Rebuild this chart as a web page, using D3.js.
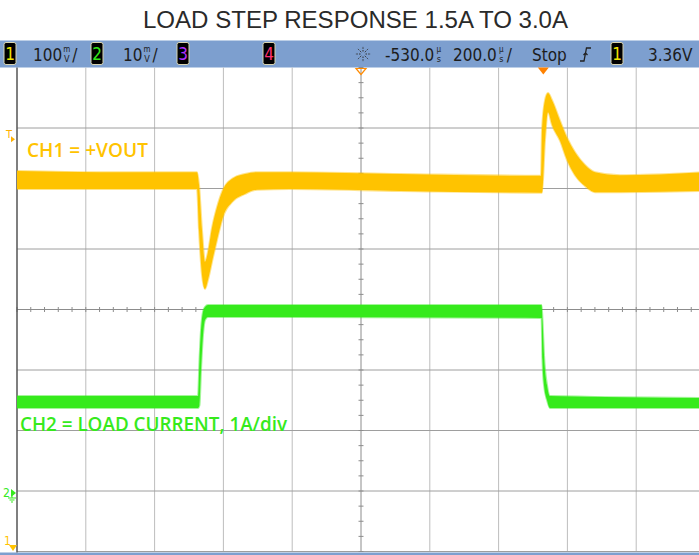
<!DOCTYPE html>
<html>
<head>
<meta charset="utf-8">
<script src="https://cdn.jsdelivr.net/npm/d3@7"></script>
<style>
  body { margin: 0; background: #fff; }
  svg { display: block; }
</style>
</head>
<body>
<div id="chart"></div>
<script>
// ---- data read off the scope shot ----
// time in µs relative to the trigger point
var ch1Time  = [-1530, -1288.7, -1006.7, -1000.9, -992.2, -983.5, -974.8, -963.1, -948.6, -931.2, -902.1, -867.2, -832.3, -736.4, -416.6, -6.7, -3.8, 4.9, 13.6, 25.3, 48.5, 68.9, 92.1, 121.2, 150.3, 222.9, 470];
// CH1 (+VOUT) noise envelope, volts
var ch1Upper = [3.301, 3.299, 3.299, 3.278, 3.203, 3.151, 3.167, 3.207, 3.241, 3.270, 3.289, 3.296, 3.299, 3.299, 3.296, 3.293, 3.369, 3.418, 3.430, 3.418, 3.384, 3.356, 3.332, 3.311, 3.299, 3.294, 3.299];
var ch1Lower = [3.271, 3.271, 3.271, 3.203, 3.129, 3.106, 3.121, 3.151, 3.187, 3.225, 3.251, 3.263, 3.270, 3.271, 3.268, 3.265, 3.265, 3.352, 3.398, 3.377, 3.351, 3.319, 3.294, 3.276, 3.266, 3.266, 3.268];

var ch2Time  = [-1530, -1003.8, -999.5, -995.1, -989.3, -983.5, -974.8, -5.2, -2.4, 2.0, 10.7, 19.4, 470];
// CH2 (load current) noise envelope, amps
var ch2Upper = [1.603, 1.603, 2.198, 2.694, 2.992, 3.074, 3.107, 3.107, 2.860, 2.281, 1.785, 1.603, 1.570];
var ch2Lower = [1.405, 1.405, 1.455, 2.033, 2.612, 2.860, 2.909, 2.893, 2.198, 1.785, 1.537, 1.405, 1.405];

var timeDomain = [-1530, 470];   // 200 µs/div, delay -530 µs
var ch1Domain = [2.672, 3.472];  // 100 mV/div
var ch2Domain = [-0.967, 7.033]; // 1 A/div
var trigLevel = 3.36;

var statusItems = [
    { kind: "box", ch: "1", color: "#f2e600", x: 4 },
    { kind: "unit", main: "100", top: "m", bot: "V", tail: "/", x: 33 },
    { kind: "box", ch: "2", color: "#33e61a", x: 91 },
    { kind: "unit", main: "10", top: "m", bot: "V", tail: "/", x: 123 },
    { kind: "box", ch: "3", color: "#b030ff", x: 177 },
    { kind: "box", ch: "4", color: "#ff3070", x: 263 },
    { kind: "unit", main: "-530.0", top: "µ", bot: "s", tail: "", x: 385 },
    { kind: "unit", main: "200.0", top: "µ", bot: "s", tail: "/", x: 453 },
    { kind: "unit", main: "Stop", top: "", bot: "", tail: "", x: 532 },
    { kind: "box", ch: "1", color: "#f2e600", x: 611 },
    { kind: "unit", main: "3.36V", top: "", bot: "", tail: "", x: 648 }
];

// ---- layout ----
var config = {
    width: 699,
    height: 555,
    left: 17,
    top: 67.5,
    divW: 68.8,
    divH: 60.5,
    xDivs: 10,
    yDivs: 8,
    yellow: "#ffc300",
    green: "#36ea1c",
    barColor: "#7d9fcf",
    barFont: "'Liberation Sans Narrow', 'DejaVu Sans Condensed', sans-serif",
    labelFont: "'Open Sans', Lato, sans-serif"
};
var plotW = config.divW * config.xDivs;
var plotH = config.divH * config.yDivs;
var right = config.left + plotW;
var bottom = config.top + plotH;
var cx = config.left + plotW / 2;
var cy = config.top + plotH / 2;

var x = d3.scaleLinear().domain(timeDomain).range([config.left, right]);
var y1 = d3.scaleLinear().domain(ch1Domain).range([bottom, config.top]);
var y2 = d3.scaleLinear().domain(ch2Domain).range([bottom, config.top]);

var svg = d3.select("#chart").append("svg")
    .attr("width", config.width)
    .attr("height", config.height);

svg.append("text")
    .attr("x", 355.5).attr("y", 28)
    .attr("text-anchor", "middle")
    .attr("font-family", "'Liberation Sans', Arial, sans-serif")
    .attr("font-size", 23)
    .attr("fill", "#2a2a2a")
    .attr("textLength", 425).attr("lengthAdjust", "spacingAndGlyphs")
    .text("LOAD STEP RESPONSE 1.5A TO 3.0A");

// status bar
var bar = svg.append("g").attr("class", "status");
bar.append("rect")
    .attr("x", 0).attr("y", 40.5).attr("width", config.width).attr("height", 27)
    .attr("fill", config.barColor);

statusItems.forEach(function (d) {
    if (d.kind === "box") {
        bar.append("rect")
            .attr("x", d.x).attr("y", 42.5).attr("width", 12).attr("height", 22)
            .attr("rx", 2)
            .attr("fill", "#000").attr("stroke", "#d8d4b0").attr("stroke-width", 1);
        bar.append("text")
            .attr("x", d.x + 6).attr("y", 60)
            .attr("text-anchor", "middle")
            .attr("font-family", config.barFont)
            .attr("font-size", 17)
            .attr("fill", d.color)
            .text(d.ch);
        return;
    }
    var t = bar.append("text")
        .attr("x", d.x).attr("y", 61)
        .attr("font-family", config.barFont)
        .attr("font-size", 17)
        .attr("fill", "#1c1c1c")
        .text(d.main);
    var xPos = d.x + t.node().getComputedTextLength();
    if (d.top) {
        // stacked unit glyph, like the scope's small "m over V"
        bar.append("text").attr("x", xPos + 4.5).attr("y", 52)
            .attr("text-anchor", "middle")
            .attr("font-family", config.barFont).attr("font-size", 8)
            .attr("fill", "#1c1c1c").text(d.top);
        bar.append("text").attr("x", xPos + 4.5).attr("y", 61.5)
            .attr("text-anchor", "middle")
            .attr("font-family", config.barFont).attr("font-size", 9)
            .attr("fill", "#1c1c1c").text(d.bot);
        xPos += 9;
    }
    if (d.tail) {
        bar.append("text").attr("x", xPos + 1).attr("y", 61)
            .attr("font-family", config.barFont).attr("font-size", 17)
            .attr("fill", "#1c1c1c").text(d.tail);
    }
});

// acquisition "sun" icon
var sun = bar.append("g").attr("transform", "translate(363,54)");
d3.range(8).forEach(function (i) {
    var a = i * Math.PI / 4;
    sun.append("line")
        .attr("x1", Math.cos(a) * 2.5).attr("y1", Math.sin(a) * 2.5)
        .attr("x2", Math.cos(a) * 8).attr("y2", Math.sin(a) * 8)
        .attr("stroke", "#333").attr("stroke-width", 1)
        .attr("stroke-dasharray", "1.5,1.2");
});
// rising-edge trigger icon
bar.append("path")
    .attr("d", "M580,61 L584,61 L586.5,48 L591,48 M583.5,55 L585.5,53 L587.5,55")
    .attr("fill", "none").attr("stroke", "#222").attr("stroke-width", 1.3);

bar.append("rect")
    .attr("x", 0).attr("y", 552.5).attr("width", config.width).attr("height", 3)
    .attr("fill", config.barColor);

// graticule
var grid = svg.append("g").attr("class", "grid");
grid.selectAll("line.v")
    .data(d3.range(1, config.xDivs))
    .enter().append("line")
    .attr("x1", function (i) { return config.left + i * config.divW; })
    .attr("x2", function (i) { return config.left + i * config.divW; })
    .attr("y1", config.top).attr("y2", bottom)
    .attr("stroke", function (i) { return i === 5 ? "#8c8c8c" : "#bdbdbd"; })
    .attr("stroke-width", 1);
grid.selectAll("line.h")
    .data(d3.range(1, config.yDivs + 1))
    .enter().append("line")
    .attr("x1", config.left).attr("x2", config.width)
    .attr("y1", function (i) { return config.top + i * config.divH; })
    .attr("y2", function (i) { return config.top + i * config.divH; })
    .attr("stroke", function (i) { return i === 4 ? "#8c8c8c" : "#9e9e9e"; })
    .attr("stroke-width", 1);

// minor ticks on centre lines
grid.selectAll("line.mx")
    .data(d3.range(0, config.xDivs * 5 + 1))
    .enter().append("line")
    .attr("x1", function (i) { return config.left + i * config.divW / 5; })
    .attr("x2", function (i) { return config.left + i * config.divW / 5; })
    .attr("y1", cy - 2.5).attr("y2", cy + 2.5)
    .attr("stroke", "#8c8c8c");
grid.selectAll("line.my")
    .data(d3.range(0, config.yDivs * 4 + 1))
    .enter().append("line")
    .attr("x1", cx - 2.5).attr("x2", cx + 2.5)
    .attr("y1", function (i) { return config.top + i * config.divH / 4; })
    .attr("y2", function (i) { return config.top + i * config.divH / 4; })
    .attr("stroke", "#8c8c8c");

svg.append("line")
    .attr("x1", config.left).attr("x2", config.left)
    .attr("y1", config.top).attr("y2", bottom + 1)
    .attr("stroke", "#555").attr("stroke-width", 1.5);

// traces
svg.append("clipPath").attr("id", "plotClip")
    .append("rect")
    .attr("x", config.left).attr("y", config.top)
    .attr("width", plotW).attr("height", plotH);

var traces = svg.append("g").attr("clip-path", "url(#plotClip)");

function drawTrace(times, upper, lower, yScale, color) {
    var area = d3.area()
        .curve(d3.curveMonotoneX)
        .x(function (d, i) { return x(times[i]); })
        .y0(function (d, i) { return yScale(lower[i]); })
        .y1(function (d, i) { return yScale(upper[i]); });
    traces.append("path")
        .datum(times)
        .attr("d", area)
        .attr("fill", color)
        .attr("stroke", color)
        .attr("stroke-opacity", 0.45)
        .attr("stroke-width", 2);
}
drawTrace(ch1Time, ch1Upper, ch1Lower, y1, config.yellow);
drawTrace(ch2Time, ch2Upper, ch2Lower, y2, config.green);

// channel labels
svg.append("text")
    .attr("x", 27).attr("y", 157)
    .attr("font-family", config.labelFont)
    .attr("font-weight", 600)
    .attr("font-size", 20)
    .attr("fill", config.yellow)
    .attr("textLength", 121).attr("lengthAdjust", "spacingAndGlyphs")
    .text("CH1 = +VOUT");
svg.append("text")
    .attr("x", 20).attr("y", 431)
    .attr("font-family", config.labelFont)
    .attr("font-weight", 600)
    .attr("font-size", 20)
    .attr("fill", config.green)
    .attr("textLength", 267).attr("lengthAdjust", "spacingAndGlyphs")
    .text("CH2 = LOAD CURRENT, 1A/div");

// markers: time reference, trigger point, trigger level, grounds
svg.append("path")
    .attr("d", "M" + (cx - 5) + "," + (config.top + 1) + " L" + (cx + 5) + "," + (config.top + 1) + " L" + cx + "," + (config.top + 7) + " Z")
    .attr("fill", "none").attr("stroke", "#ff8a00").attr("stroke-width", 1.2);
var trigX = x(0);
svg.append("path")
    .attr("d", "M" + (trigX - 5.5) + "," + config.top + " L" + (trigX + 5.5) + "," + config.top + " L" + trigX + "," + (config.top + 7) + " Z")
    .attr("fill", "#ff8200");

var trigY = y1(trigLevel);
svg.append("text")
    .attr("x", 6).attr("y", trigY + 3)
    .attr("font-family", config.barFont).attr("font-size", 11)
    .attr("fill", "#ffb000").text("T");
svg.append("path")
    .attr("d", "M11," + (trigY + 1) + " L15," + (trigY + 4) + " L11," + (trigY + 7) + " Z")
    .attr("fill", "#ffb000");

var gnd2 = y2(0);
svg.append("text")
    .attr("x", 3).attr("y", gnd2 + 4)
    .attr("font-family", config.barFont).attr("font-size", 12)
    .attr("fill", config.green).text("2");
svg.append("path")
    .attr("d", "M11," + (gnd2 - 4) + " L16," + gnd2 + " L11," + (gnd2 + 4) + " Z")
    .attr("fill", config.green);
svg.append("path")
    .attr("d", "M12," + gnd2 + " L12," + (gnd2 + 5) + " M8," + (gnd2 + 5) + " L16," + (gnd2 + 5) + " M9.5," + (gnd2 + 7) + " L14.5," + (gnd2 + 7) + " M11," + (gnd2 + 9) + " L13," + (gnd2 + 9))
    .attr("stroke", config.green).attr("stroke-width", 1).attr("fill", "none");

svg.append("text")
    .attr("x", 4).attr("y", 545)
    .attr("font-family", config.barFont).attr("font-size", 12)
    .attr("fill", config.yellow).text("1");
svg.append("path")
    .attr("d", "M9,545 L17,545 L13,551 Z")
    .attr("fill", config.yellow);
</script>
</body>
</html>
